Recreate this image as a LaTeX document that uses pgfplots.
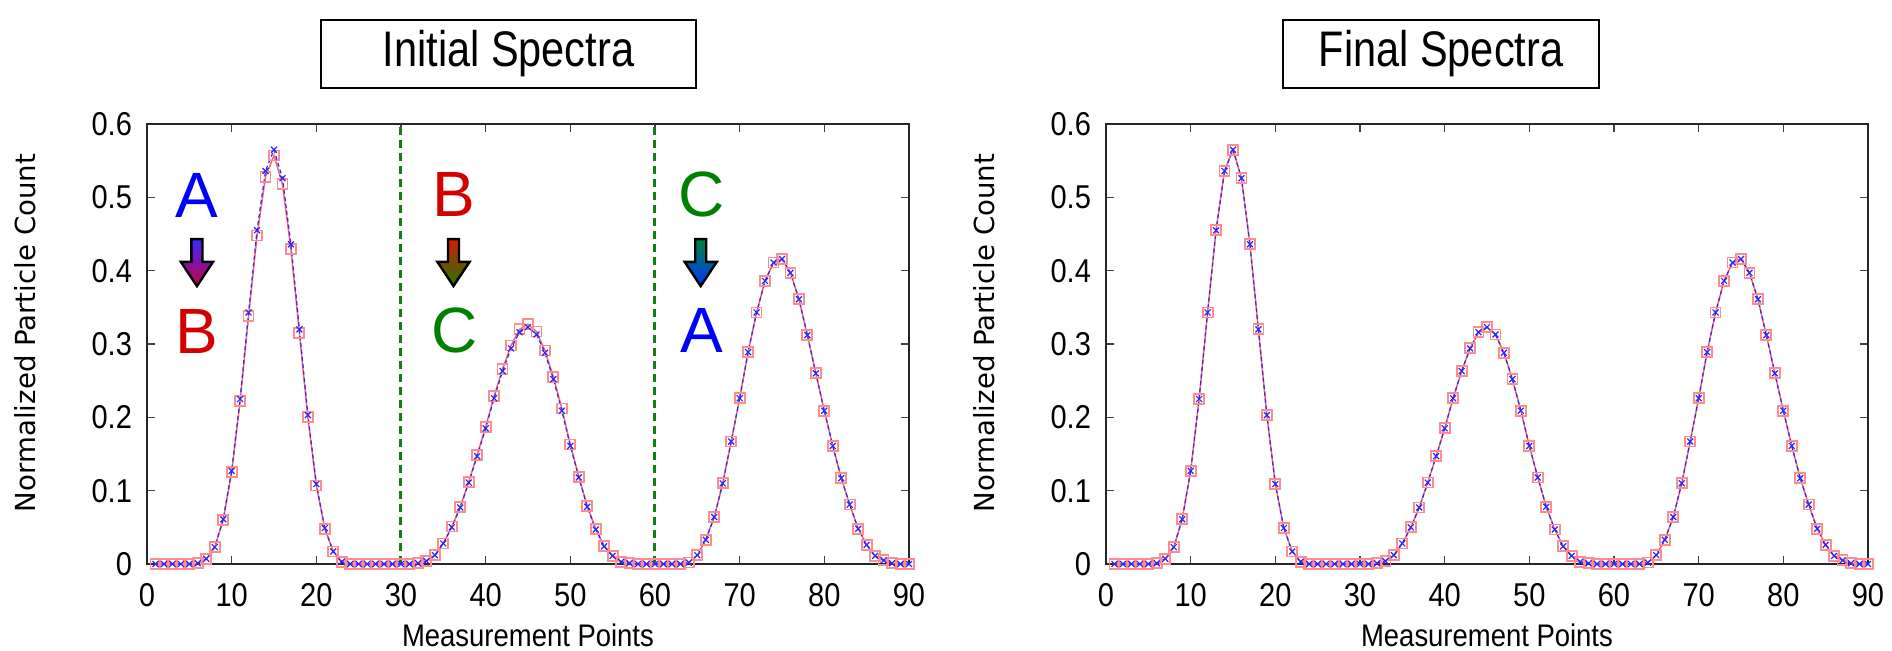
\documentclass[border=0pt]{standalone}
\usepackage{pgfplots}
\pgfplotsset{compat=1.18}
\usepackage{pgfplotstable}
\usepackage{fontspec}
\setmainfont{Liberation Sans}
\newfontfamily\dejavu{DejaVu Sans}
\newfontfamily\narrowfont[FakeStretch=0.83]{Liberation Sans}
\newfontfamily\tickfont[FakeStretch=0.88]{Liberation Sans}

\definecolor{redline}{RGB}{255,100,100}
\definecolor{redmark}{RGB}{255,140,140}
\definecolor{blueline}{RGB}{40,40,255}
\definecolor{dgreen}{RGB}{20,125,20}
\definecolor{lA}{RGB}{0,0,255}
\definecolor{lB}{RGB}{210,0,0}
\definecolor{lC}{RGB}{0,128,0}

\pgfplotstableread{
x y yl
1 0 0
2 0 0
3 0 0
4 0 0
5 0 0
6 0.001 0.001
7 0.007 0.007
8 0.023 0.023
9 0.061 0.060
10 0.127 0.125
11 0.225 0.222
12 0.343 0.338
13 0.455 0.448
14 0.536 0.528
15 0.565 0.557
16 0.526 0.518
17 0.436 0.429
18 0.320 0.315
19 0.203 0.200
20 0.109 0.107
21 0.049 0.048
22 0.017 0.017
23 0.003 0.003
24 0 0
25 0 0
26 0 0
27 0 0
28 0 0
29 0 0
30 0 0
31 0 0
32 0.001 0.001
33 0.004 0.004
34 0.012 0.012
35 0.028 0.028
36 0.050 0.051
37 0.077 0.078
38 0.111 0.112
39 0.147 0.149
40 0.185 0.187
41 0.226 0.229
42 0.263 0.266
43 0.294 0.298
44 0.316 0.320
45 0.323 0.327
46 0.313 0.317
47 0.288 0.291
48 0.252 0.255
49 0.209 0.212
50 0.161 0.163
51 0.118 0.119
52 0.078 0.079
53 0.047 0.048
54 0.024 0.024
55 0.011 0.011
56 0.003 0.003
57 0.001 0.001
58 0 0
59 0 0
60 0 0
61 0 0
62 0 0
63 0 0
64 0.002 0.002
65 0.012 0.012
66 0.033 0.033
67 0.064 0.064
68 0.110 0.110
69 0.167 0.167
70 0.226 0.226
71 0.289 0.289
72 0.343 0.343
73 0.386 0.386
74 0.411 0.411
75 0.416 0.416
76 0.397 0.397
77 0.361 0.361
78 0.312 0.312
79 0.260 0.260
80 0.209 0.209
81 0.161 0.161
82 0.117 0.117
83 0.081 0.081
84 0.048 0.048
85 0.026 0.026
86 0.011 0.011
87 0.005 0.005
88 0.001 0.001
89 0 0
90 0 0
}\spectra

\pgfplotsset{
  specax/.style={
    scale only axis, width=381pt, height=220pt, anchor=south west,
    xmin=0, xmax=90, ymin=0, ymax=0.6,
    xtick={0,10,...,90}, ytick={0,0.1,...,0.6},
    tick pos=both, tick align=inside, major tick length=4pt,
    tick style={black!75, line width=0.6pt},
    axis line style={black!85, line width=1pt},
    clip=false,
    /pgf/number format/assume math mode=true,
    yticklabel style={/pgf/number format/fixed, /pgf/number format/precision=1, xshift=-4pt},
    xticklabel style={yshift=-6pt},
    tick label style={font=\tickfont\fontsize{16.5}{19}\selectfont},
    xlabel={Measurement Points},
    ylabel={Normalized Particle Count},
    every axis x label/.style={at={(axis description cs:0.5,-0.188)}, anchor=base, inner sep=0pt, font=\tickfont\fontsize{15.6}{18}\selectfont},
    every axis y label/.style={at={(axis description cs:-0.16,0.525)}, rotate=90, anchor=center, font=\dejavu\fontsize{13.8}{16}\selectfont},
  },
  redser/.style={color=redline, line width=0.75pt, mark=square, mark size=2.5pt,
    mark options={draw=redmark, line width=0.9pt, solid}},
  blueser/.style={color=blueline, line width=0.6pt, dash pattern=on 2pt off 1.5pt,
    mark=x, mark size=2.1pt, mark options={solid, line width=0.6pt}},
}

\begin{document}
\begin{tikzpicture}
\path (0,0) rectangle (946pt,325.5pt);

\begin{axis}[specax, at={(73.5pt,43.5pt)}]
\addplot[dgreen, line width=1.5pt, dash pattern=on 4pt off 2.5pt] coordinates {(30,0) (30,0.6)};
\addplot[dgreen, line width=1.5pt, dash pattern=on 4pt off 2.5pt] coordinates {(60,0) (60,0.6)};
\addplot[redser] table[x=x, y=yl] {\spectra};
\addplot[blueser] table[x=x, y=y] {\spectra};

\node[text=lA, font=\fontsize{32}{38}\selectfont] at (axis cs:5.9,0.5025) {A};
\path[draw=black, line width=1.2pt, line join=miter,
  top color={rgb,255:red,60;green,40;blue,255}, bottom color={rgb,255:red,200;green,0;blue,70}]
  (axis cs:5.25,0.443) -- (axis cs:6.55,0.443) -- (axis cs:6.55,0.412) -- (axis cs:7.8,0.412)
  -- (axis cs:5.9,0.379) -- (axis cs:4.0,0.412) -- (axis cs:5.25,0.412) -- cycle;
\node[text=lB, font=\fontsize{32}{38}\selectfont] at (axis cs:5.9,0.317) {B};

\node[text=lB, font=\fontsize{32}{38}\selectfont] at (axis cs:36.3,0.5045) {B};
\path[draw=black, line width=1.2pt, line join=miter,
  top color={rgb,255:red,210;green,30;blue,0}, bottom color={rgb,255:red,30;green,120;blue,0}]
  (axis cs:35.55,0.443) -- (axis cs:36.85,0.443) -- (axis cs:36.85,0.412) -- (axis cs:38.1,0.412)
  -- (axis cs:36.2,0.379) -- (axis cs:34.3,0.412) -- (axis cs:35.55,0.412) -- cycle;
\node[text=lC, font=\fontsize{32}{38}\selectfont] at (axis cs:36.3,0.319) {C};

\node[text=lC, font=\fontsize{32}{38}\selectfont] at (axis cs:65.5,0.5045) {C};
\path[draw=black, line width=1.2pt, line join=miter,
  top color={rgb,255:red,0;green,130;blue,60}, bottom color={rgb,255:red,0;green,50;blue,255}]
  (axis cs:64.75,0.443) -- (axis cs:66.05,0.443) -- (axis cs:66.05,0.412) -- (axis cs:67.3,0.412)
  -- (axis cs:65.4,0.379) -- (axis cs:63.5,0.412) -- (axis cs:64.75,0.412) -- cycle;
\node[text=lA, font=\fontsize{32}{38}\selectfont] at (axis cs:65.5,0.319) {A};
\end{axis}

\begin{axis}[specax, at={(553pt,43.5pt)}]
\addplot[redser] table[x=x, y=y] {\spectra};
\addplot[blueser] table[x=x, y=y] {\spectra};
\end{axis}

\node[draw, line width=1pt, minimum width=187.5pt, minimum height=34pt, inner sep=0pt,
  font=\narrowfont\fontsize{25}{30}\selectfont] at (254.25pt,298.5pt) {Initial Spectra};
\node[draw, line width=1pt, minimum width=158pt, minimum height=34pt, inner sep=0pt,
  font=\narrowfont\fontsize{25}{30}\selectfont] at (720.5pt,298.5pt) {Final Spectra};
\end{tikzpicture}
\end{document}
